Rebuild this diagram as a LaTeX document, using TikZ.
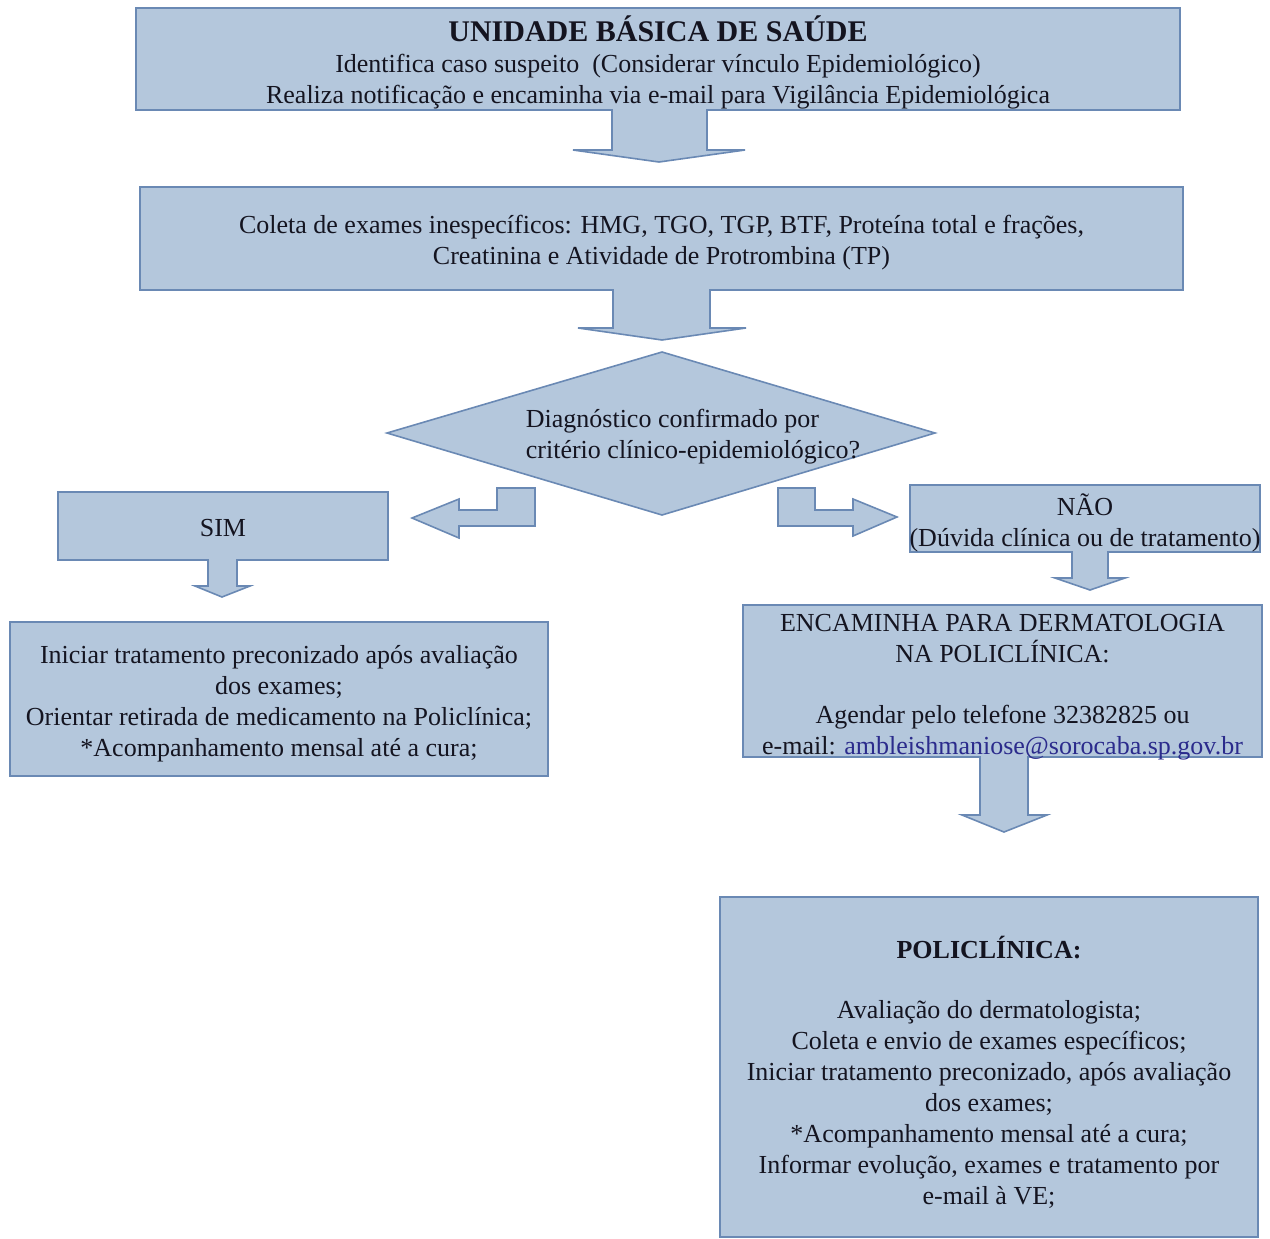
\documentclass[tikz,border=0pt]{standalone}
\usepackage{fontspec}
\setmainfont{Liberation Serif}
\definecolor{boxfill}{HTML}{B4C7DC}
\definecolor{boxline}{HTML}{6A89B4}
\definecolor{txt}{HTML}{141420}
\definecolor{maillink}{HTML}{2B2B8C}

\begin{document}
\begin{tikzpicture}[x=0.5pt,y=-0.5pt,
  caixa/.style={draw=boxline, fill=boxfill, line width=0.8pt, inner sep=0pt},
  seta/.style={draw=boxline, fill=boxfill, line width=0.8pt, line join=miter},
  rotulo/.style={text=txt, inner sep=0pt, font=\fontsize{13}{15.5}\selectfont},
  texto/.style={rotulo, align=center, yshift=-2pt}]

\useasboundingbox (0,0) rectangle (1270,1238);

% caixas
\node[caixa, minimum width=522pt, minimum height=51pt] (ubs) at (658,59) {};
\node[caixa, minimum width=521.5pt, minimum height=51.5pt] (coleta) at (661.5,238.5) {};
\draw[seta] (662,352) -- (935,433) -- (662,515) -- (387,433) -- cycle;
\node[caixa, minimum width=165pt, minimum height=34pt] (sim) at (223,526) {};
\node[caixa, minimum width=269pt, minimum height=77pt] (tratsim) at (279,699) {};
\node[caixa, minimum width=175pt, minimum height=33.5pt] (nao) at (1085,518.5) {};
\node[caixa, minimum width=259.5pt, minimum height=76pt] (encam) at (1002.5,681) {};
\node[caixa, minimum width=269pt, minimum height=170pt] (poli) at (989,1067) {};

% textos
\node[texto, yshift=0.5pt] (ubs-t) at (ubs)
  {{\fontsize{15}{15.5}\selectfont\bfseries UNIDADE BÁSICA DE SAÚDE}\\
   Identifica caso suspeito~ (Considerar vínculo Epidemiológico)\\
   Realiza notificação e encaminha via e-mail para Vigilância Epidemiológica};
\node[texto] (coleta-t) at (coleta)
  {Coleta de exames inespecíficos: HMG, TGO, TGP, BTF, Proteína total e frações,\\
   Creatinina e Atividade de Protrombina (TP)};
\node[rotulo, align=left] (pergunta) at (693,437)
  {Diagnóstico confirmado por\\critério clínico-epidemiológico?};
\node[texto, yshift=1pt] (sim-t) at (sim) {SIM};
\node[texto, yshift=-0.5pt] (tratsim-t) at (tratsim)
  {Iniciar tratamento preconizado após avaliação\\
   dos exames;\\
   Orientar retirada de medicamento na Policlínica;\\
   *Acompanhamento mensal até a cura;};
\node[texto] (nao-t) at (nao)
  {NÃO\\(Dúvida clínica ou de tratamento)};
\node[texto, yshift=-1pt] (encam-t) at (encam)
  {ENCAMINHA PARA DERMATOLOGIA\\
   NA POLICLÍNICA:\\[15pt]
   Agendar pelo telefone 32382825 ou\\
   e-mail: \textcolor{maillink}{ambleishmaniose@sorocaba.sp.gov.br}};
\node[texto, yshift=-0.5pt] (poli-t) at (poli)
  {{\bfseries POLICLÍNICA:}\\[14.5pt]
   Avaliação do dermatologista;\\
   Coleta e envio de exames específicos;\\
   Iniciar tratamento preconizado, após avaliação\\
   dos exames;\\
   *Acompanhamento mensal até a cura;\\
   Informar evolução, exames e tratamento por\\
   e-mail à VE;};

% setas
\draw[seta] (612,109) -- (612,150) -- (573,150) -- (659,162) -- (745,150) -- (707,150) -- (707,109);
\draw[seta] (613,289) -- (613,328) -- (578,328) -- (662,340) -- (746,328) -- (710,328) -- (710,289);
\draw[seta] (497,488) -- (535,488) -- (535,526) -- (459,526) -- (459,538) -- (412,518)
  -- (459,499) -- (459,510) -- (497,510) -- cycle;
\draw[seta] (778,488) -- (815,488) -- (815,510) -- (853,510) -- (853,499) -- (897,517)
  -- (853,536) -- (853,526) -- (778,526) -- cycle;
\draw[seta] (208,559) -- (208,586) -- (195,586) -- (222,597) -- (250,586) -- (237,586) -- (237,559);
\draw[seta] (1072,551) -- (1072,578) -- (1055,578) -- (1090,590) -- (1125,578) -- (1108,578) -- (1108,551);
\draw[seta] (980,756) -- (980,815) -- (962,815) -- (1004,832) -- (1047,815) -- (1028,815) -- (1028,756);
\end{tikzpicture}
\end{document}
